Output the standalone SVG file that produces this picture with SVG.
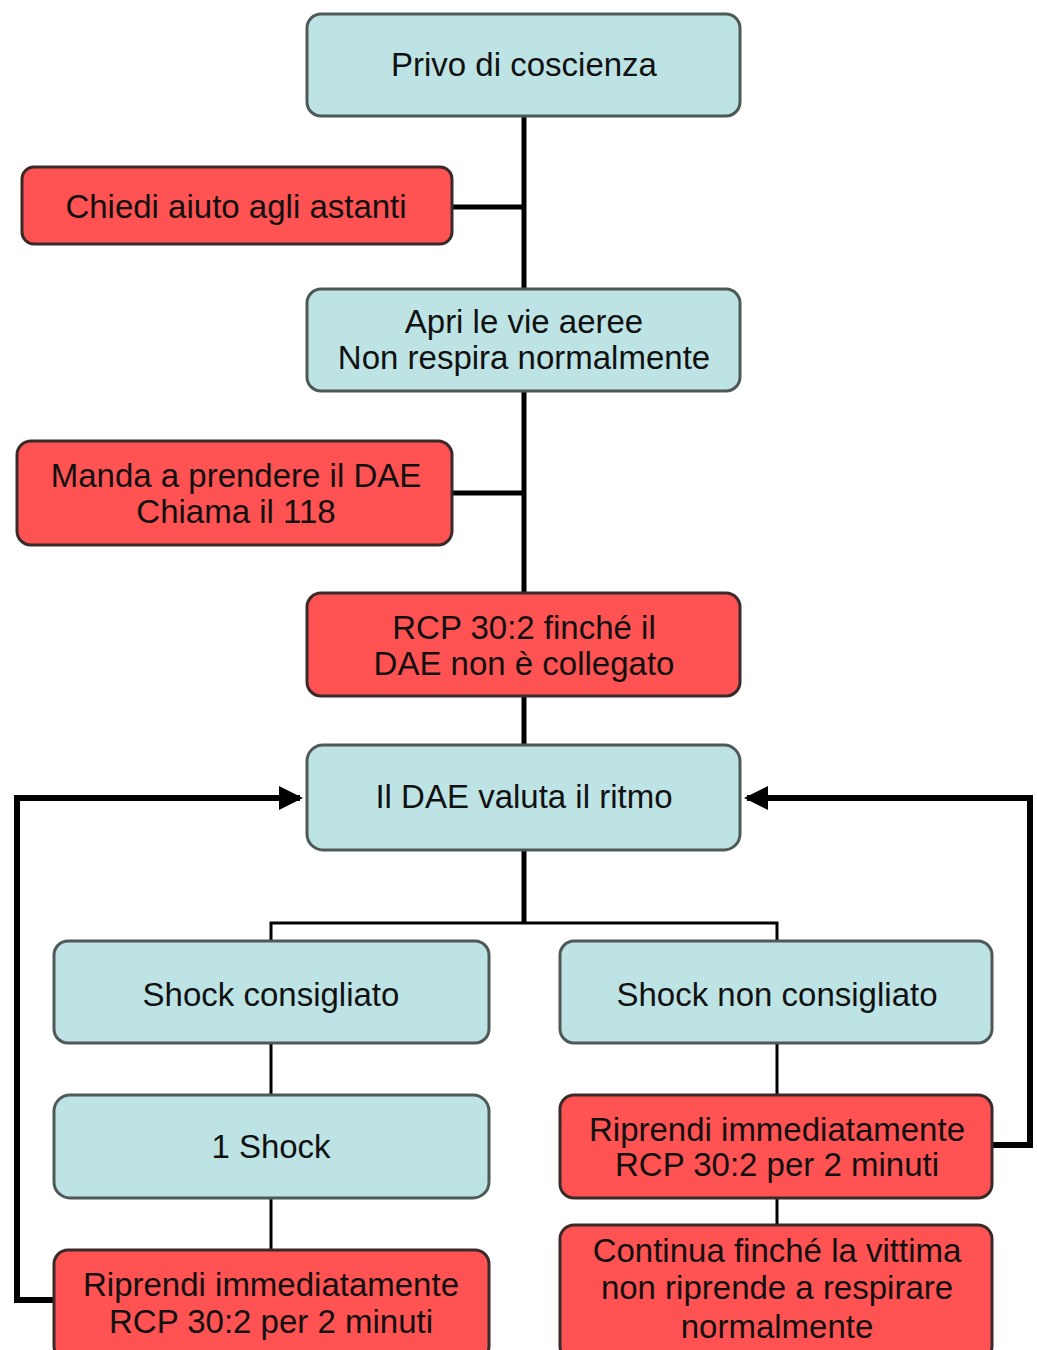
<svg xmlns="http://www.w3.org/2000/svg" width="1037" height="1350" viewBox="0 0 1037 1350">
<style>
.b{fill:#bde3e5;stroke:#4f5957;stroke-width:3}
.r{fill:#ff5252;stroke:#3a2a2a;stroke-width:3}
text{font-family:"Liberation Sans",Arial,sans-serif;font-size:33px;fill:#111;text-anchor:middle}
.k{stroke:#000;fill:none}
</style>
<defs>
<marker id="ah" markerWidth="4" markerHeight="4" refX="3.5" refY="2" orient="auto" markerUnits="strokeWidth">
<path d="M0,0 L4,2 L0,4 Z" fill="#000"/>
</marker>
</defs>
<rect width="1037" height="1350" fill="#fff"/>
<g id="connectors">
<path class="k" stroke-width="5" d="M524,116 V745 M452,207 H524 M452,493 H524 M524,850 V923"/>
<path class="k" stroke-width="3" d="M271,941 V923 H777 V941 M271,1043 V1095 M271,1198 V1250 M777,1043 V1095 M777,1198 V1225"/>
<path class="k" stroke-width="6" marker-end="url(#ah)" d="M54,1300 H17 V798 H300"/>
<path class="k" stroke-width="6" marker-end="url(#ah)" d="M992,1145 H1030 V798 H747"/>
</g>
<g id="n1"><rect class="b" x="307" y="14" width="433" height="102" rx="14"/><text x="524" y="76">Privo di coscienza</text></g>
<g id="n2"><rect class="r" x="22" y="167" width="430" height="77" rx="12"/><text x="236" y="218">Chiedi aiuto agli astanti</text></g>
<g id="n3"><rect class="b" x="307" y="289" width="433" height="102" rx="14"/><text x="524" y="333">Apri le vie aeree</text><text x="524" y="369">Non respira normalmente</text></g>
<g id="n4"><rect class="r" x="17" y="441" width="435" height="104" rx="14"/><text x="236" y="487">Manda a prendere il DAE</text><text x="236" y="523">Chiama il 118</text></g>
<g id="n5"><rect class="r" x="307" y="593" width="433" height="103" rx="14"/><text x="524" y="639">RCP 30:2 finché il</text><text x="524" y="675">DAE non è collegato</text></g>
<g id="n6"><rect class="b" x="307" y="745" width="433" height="105" rx="16"/><text x="524" y="808">Il DAE valuta il ritmo</text></g>
<g id="n7"><rect class="b" x="54" y="941" width="435" height="102" rx="14"/><text x="271" y="1006">Shock consigliato</text></g>
<g id="n8"><rect class="b" x="560" y="941" width="432" height="102" rx="14"/><text x="777" y="1006">Shock non consigliato</text></g>
<g id="n9"><rect class="b" x="54" y="1095" width="435" height="103" rx="16"/><text x="271" y="1158">1 Shock</text></g>
<g id="n10"><rect class="r" x="560" y="1095" width="432" height="103" rx="14"/><text x="777" y="1141">Riprendi immediatamente</text><text x="777" y="1176">RCP 30:2 per 2 minuti</text></g>
<g id="n11"><rect class="r" x="54" y="1250" width="435" height="110" rx="14"/><text x="271" y="1296">Riprendi immediatamente</text><text x="271" y="1333">RCP 30:2 per 2 minuti</text></g>
<g id="n12"><rect class="r" x="560" y="1225" width="432" height="135" rx="14"/><text x="777" y="1262">Continua finché la vittima</text><text x="777" y="1299">non riprende a respirare</text><text x="777" y="1338">normalmente</text></g>
</svg>
